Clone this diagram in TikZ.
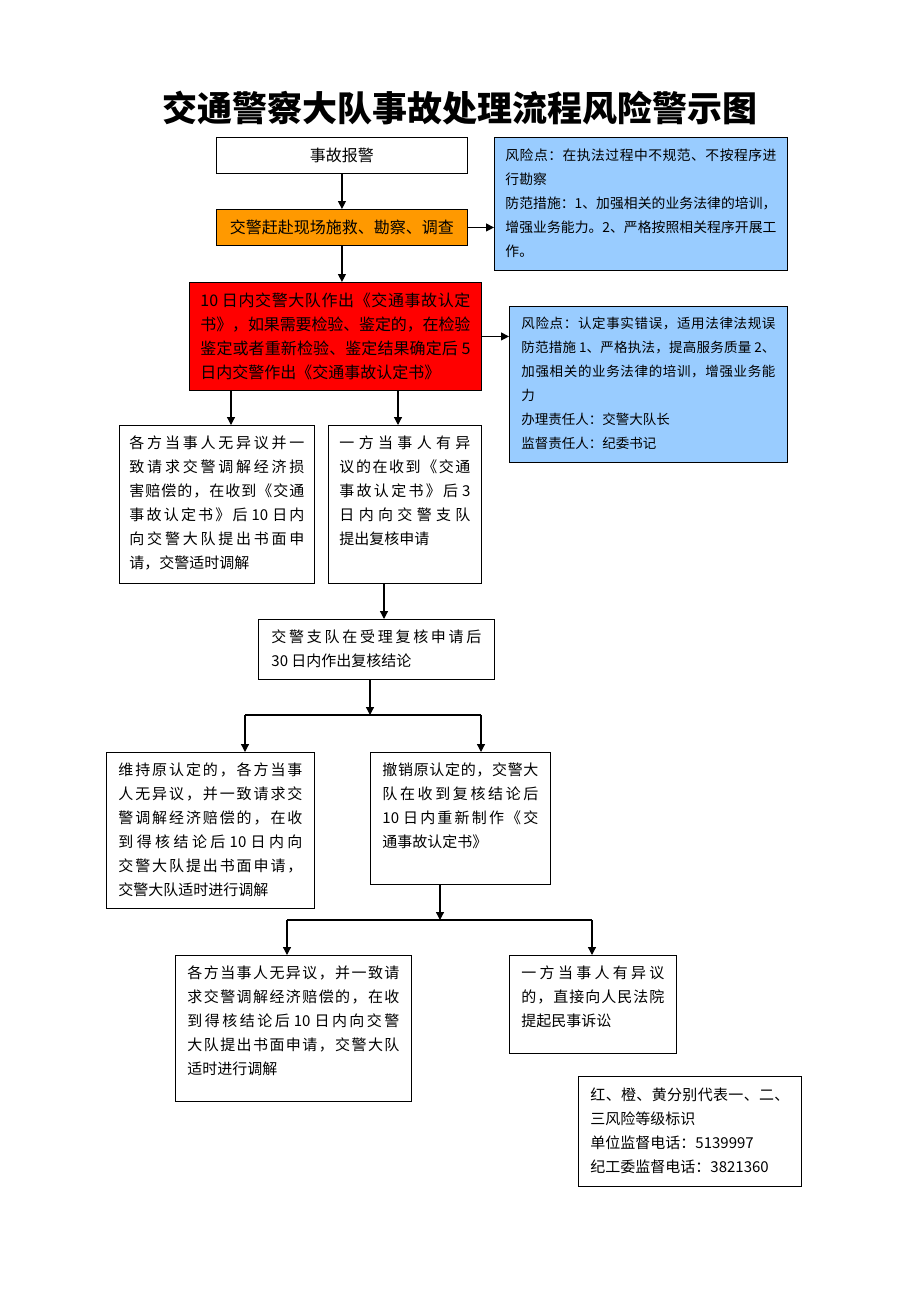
\documentclass[tikz,border=0pt]{standalone}
\usepackage{fontspec}
\newfontfamily\cjk{Noto Sans CJK SC}
\usetikzlibrary{arrows.meta}
\definecolor{riskblue}{RGB}{153,204,255}
\definecolor{steporange}{RGB}{255,153,0}
\definecolor{stepred}{RGB}{255,0,0}
% stretchable glue between CJK characters, so that lines can be justified
\newXeTeXintercharclass\cjkchar
\newXeTeXintercharclass\cjkopen
\newXeTeXintercharclass\cjkclose
\count255="4E00
\loop
  \XeTeXcharclass\count255=\cjkchar
  \ifnum\count255<"9FFF \advance\count255 by 1
\repeat
\XeTeXcharclass"3001=\cjkclose
\XeTeXcharclass"3002=\cjkclose
\XeTeXcharclass"FF0C=\cjkclose
\XeTeXcharclass"FF1A=\cjkclose
\XeTeXcharclass"300B=\cjkclose
\XeTeXcharclass"300A=\cjkopen
\XeTeXinterchartokenstate=1
\newcommand{\cjkglue}{\hskip 0pt plus 0.4em minus 0.05em\relax}
\XeTeXinterchartoks\cjkchar\cjkchar{\cjkglue}
\XeTeXinterchartoks\cjkchar\cjkopen{\cjkglue}
\XeTeXinterchartoks\cjkchar\cjkclose{\cjkglue}
\XeTeXinterchartoks\cjkopen\cjkchar{\cjkglue}
\XeTeXinterchartoks\cjkclose\cjkchar{\cjkglue}
\XeTeXinterchartoks\cjkclose\cjkopen{\cjkglue}
\XeTeXinterchartoks\cjkclose\cjkclose{\cjkglue}
\newcommand{\boxtext}[3]{\parbox[c][#1][t]{#2}{#3}}
\tikzset{every picture/.style={line width=0.9pt}}
\tikzset{
  plainbox/.style={draw, anchor=north west, inner sep=0pt, minimum width=251pt, minimum height=36pt, font=\cjk\fontsize{16}{24}\selectfont},
  stepbox/.style={draw, anchor=north west, inner xsep=12pt, inner ysep=10pt, font=\cjk\fontsize{15}{24}\selectfont},
  riskbox/.style={stepbox, fill=riskblue, inner xsep=11pt, inner ysep=11pt, font=\cjk\fontsize{13.8}{24}\selectfont},
  arr/.style={line width=1.2pt, -{Triangle[length=8pt,width=8pt]}},
  link/.style={line width=1.2pt},
}
\begin{document}
\begin{tikzpicture}[x=1pt,y=1pt,yscale=-1,xscale=1]
        \useasboundingbox (0,0) rectangle (920,1302);
        % Title
        \node (title) at (460,108) {\cjk\bfseries\fontsize{35}{35}\selectfont 交通警察大队事故处理流程风险警示图};
        % Boxes
        \node [plainbox] (report) at (216,137) {事故报警};
        \node [plainbox, fill=steporange] (scene) at (216,209) {交警赶赴现场施救、勘察、调查};
        \node [riskbox] (risk1) at (494,137) {\boxtext{111pt}{271pt}{风险点：在执法过程中不规范、不按程序进\linebreak
          行勘察\\
          防范措施：1、加强相关的业务法律的培训，\linebreak
          增强业务能力。2、严格按照相关程序开展工\linebreak
          作。}};
        \node [stepbox, fill=stepred, inner xsep=11pt, font=\cjk\fontsize{16}{24}\selectfont] (accident) at (189,282) {\boxtext{88pt}{270pt}{10 日内交警大队作出《交通事故认定\linebreak
          书》，如果需要检验、鉴定的，在检验\linebreak
          鉴定或者重新检验、鉴定结果确定后 5\linebreak
          日内交警作出《交通事故认定书》}};
        \node [riskbox, inner xsep=12pt, font=\cjk\fontsize{13.5}{24}\selectfont] (risk2) at (509,306) {\boxtext{134pt}{254pt}{风险点：认定事实错误，适用法律法规误\linebreak
          防范措施 1、严格执法，提高服务质量 2、\linebreak
          加强相关的业务法律的培训，增强业务能\linebreak
          力\\
          办理责任人：交警大队长\\
          监督责任人：纪委书记}};
        \node [stepbox, inner xsep=10pt] (mediate) at (119,425) {\boxtext{138pt}{175pt}{各方当事人无异议并一\linebreak
          致请求交警调解经济损\linebreak
          害赔偿的，在收到《交通\linebreak
          事故认定书》后 10 日内\linebreak
          向交警大队提出书面申\linebreak
          请，交警适时调解}};
        \node [stepbox, inner xsep=11pt] (dispute) at (328,425) {\boxtext{138pt}{131pt}{一方当事人有异\linebreak
          议的在收到《交通\linebreak
          事故认定书》后 3\linebreak
          日内向交警支队\linebreak
          提出复核申请}};
        \node [stepbox, inner xsep=13pt] (review) at (258,619) {\boxtext{40pt}{210pt}{交警支队在受理复核申请后\linebreak
          30 日内作出复核结论}};
        \node [stepbox] (keep) at (106,752) {\boxtext{136pt}{184pt}{维持原认定的，各方当事\linebreak
          人无异议，并一致请求交\linebreak
          警调解经济赔偿的，在收\linebreak
          到得核结论后 10 日内向\linebreak
          交警大队提出书面申请，\linebreak
          交警大队适时进行调解}};
        \node [stepbox] (revoke) at (370,752) {\boxtext{112pt}{156pt}{撤销原认定的，交警大\linebreak
          队在收到复核结论后\linebreak
          10 日内重新制作《交\linebreak
          通事故认定书》}};
        \node [stepbox] (agree) at (175,955) {\boxtext{126pt}{212pt}{各方当事人无异议，并一致请\linebreak
          求交警调解经济赔偿的，在收\linebreak
          到得核结论后 10 日内向交警\linebreak
          大队提出书面申请，交警大队\linebreak
          适时进行调解}};
        \node [stepbox] (sue) at (509,955) {\boxtext{78pt}{143pt}{一方当事人有异议\linebreak
          的，直接向人民法院\linebreak
          提起民事诉讼}};
        \node [stepbox, inner ysep=11pt] (legend) at (578,1076) {\boxtext{88pt}{199pt}{红、橙、黄分别代表一、二、\linebreak
          三风险等级标识\\
          单位监督电话：5139997\\
          纪工委监督电话：3821360}};
        % Branch points
        \coordinate (a1) at ([xshift=42pt]accident.south west);
        \coordinate (a2) at ([xshift=209pt]accident.south west);
        \coordinate (d1) at ([xshift=56pt]dispute.south west);
        \coordinate (r1) at ([xshift=112pt]review.south west);
        \coordinate (v1) at ([xshift=70pt]revoke.south west);
        \coordinate (fork1) at (370,715);
        \coordinate (fork1l) at (245,715);
        \coordinate (fork1r) at (481,715);
        \coordinate (fork2) at (440,920);
        \coordinate (fork2l) at (287,920);
        \coordinate (fork2r) at (592,920);
        %Straight Lines
        \draw [arr] (report) -- (scene);
        \draw [arr] (scene) -- (scene.south |- accident.north);
        \draw [arr] (scene.east) -- (scene.east -| risk1.west);
        \draw [arr] (accident.east) -- (accident.east -| risk2.west);
        \draw [arr] (a1) -- (a1 |- mediate.north);
        \draw [arr] (a2) -- (a2 |- dispute.north);
        \draw [arr] (d1) -- (d1 |- review.north);
        \draw [arr] (r1) -- (fork1);
        \draw [link] (fork1l) -- (fork1r);
        \draw [arr] (fork1l) -- (fork1l |- keep.north);
        \draw [arr] (fork1r) -- (fork1r |- revoke.north);
        \draw [arr] (v1) -- (fork2);
        \draw [link] (fork2l) -- (fork2r);
        \draw [arr] (fork2l) -- (fork2l |- agree.north);
        \draw [arr] (fork2r) -- (fork2r |- sue.north);
    \end{tikzpicture}
\end{document}
